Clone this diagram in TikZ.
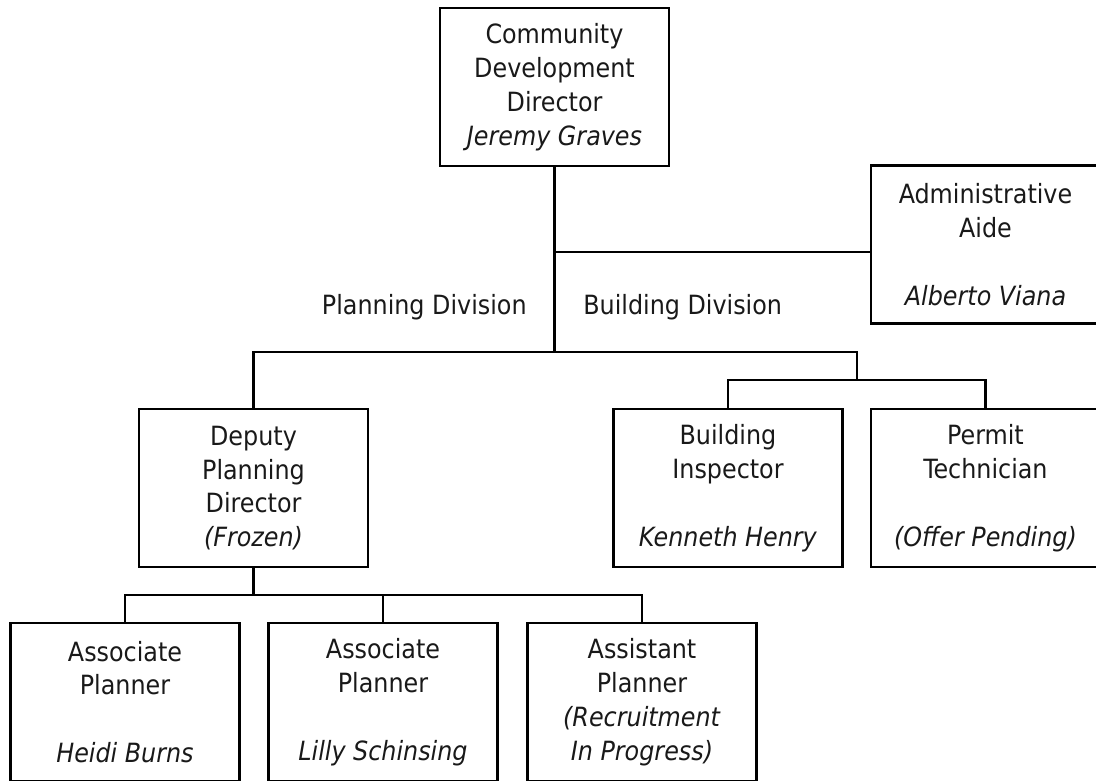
\documentclass[tikz,border=0pt]{standalone}
\usepackage{fontspec}
\setmainfont{DejaVu Sans Condensed}
\begin{document}
\begin{tikzpicture}[x=1pt,y=-1pt,
  line width=2.6pt,
  posbox/.style={draw=black, rectangle, minimum width=229pt, minimum height=158pt,
    inner sep=0pt, align=center, font=\fontsize{26.5}{33.8}\selectfont, text=black!90},
  divlabel/.style={inner sep=0pt, font=\fontsize{26.5}{33.8}\selectfont, text=black!90},
  wire/.style={draw=black, line width=2.6pt}]
\useasboundingbox (0,0) rectangle (1096,781);
\clip (0,0) rectangle (1096,781);

% boxes
\node[posbox] (top) at (554.5,87) {Community\\Development\\Director\\\textit{Jeremy Graves}};
\node[posbox] (admin) at (985.5,244.5) {Administrative\\Aide\\\mbox{}\\\textit{Alberto Viana}};
\node[posbox] (deputy) at (253.5,488) {Deputy\\Planning\\Director\\\textit{(Frozen)}};
\node[posbox] (insp) at (728,488) {Building\\Inspector\\\mbox{}\\\textit{Kenneth Henry}};
\node[posbox] (permit) at (985.5,488) {Permit\\Technician\\\mbox{}\\\textit{(Offer Pending)}};
\node[posbox] (assoc1) at (125,702) {Associate\\Planner\\\mbox{}\\\textit{Heidi Burns}};
\node[posbox] (assoc2) at (383,702) {Associate\\Planner\\\mbox{}\\\textit{Lilly Schinsing}};
\node[posbox] (asst) at (642,702) {Assistant\\Planner\\\textit{(Recruitment}\\\textit{In Progress)}};

% division labels
\node[divlabel, anchor=base east] (plan) at (528,314) {Planning Division};
\node[divlabel, anchor=base west] (build) at (582,314) {Building Division};

% junctions
\coordinate (jadmin) at (554.5,252);
\coordinate (jdiv) at (554.5,352);
\coordinate (jbld) at (857,352);
\coordinate (jbld2) at (857,380);
\coordinate (jplan) at (253.5,595);

% connectors
\draw[wire] (top.south) -- (jdiv);
\draw[wire] (jadmin) -- (jadmin -| admin.west);
\draw[wire] (deputy.north) -- (deputy.north |- jdiv) -- (jbld) -- (jbld2);
\draw[wire] (insp.north) -- (insp.north |- jbld2) -- (permit.north |- jbld2) -- (permit.north);
\draw[wire] (deputy.south) -- (jplan);
\draw[wire] (assoc1.north) -- (assoc1.north |- jplan) -- (asst.north |- jplan) -- (asst.north);
\draw[wire] (assoc2.north) -- (assoc2.north |- jplan);
\end{tikzpicture}
\end{document}
